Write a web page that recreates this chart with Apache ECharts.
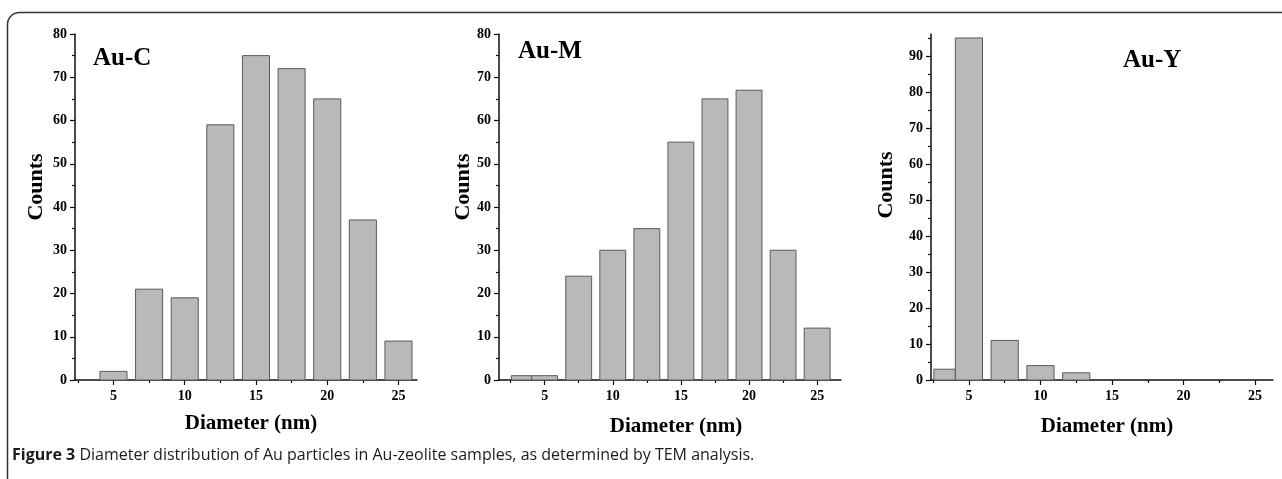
<!DOCTYPE html>
<html>
<head>
<meta charset="utf-8">
<script src="https://cdn.jsdelivr.net/npm/echarts@6/dist/echarts.min.js"></script>
<style>
  html, body { margin: 0; padding: 0; background: #fff; }
  #chart { width: 1282px; height: 479px; }
</style>
</head>
<body>
<div id="chart"></div>
<script>
// Bin centres (nm), bin widths (nm) and counts for each sample
const auCCenters = [5, 7.5, 10, 12.5, 15, 17.5, 20, 22.5, 25];
const auCWidths  = [1.9, 1.9, 1.9, 1.9, 1.9, 1.9, 1.9, 1.9, 1.9];
const auCCounts  = [2, 21, 19, 59, 75, 72, 65, 37, 9];

const auMCenters = [3.3, 5, 7.5, 10, 12.5, 15, 17.5, 20, 22.5, 25];
const auMWidths  = [1.5, 1.9, 1.9, 1.9, 1.9, 1.9, 1.9, 1.9, 1.9, 1.9];
const auMCounts  = [1, 1, 24, 30, 35, 55, 65, 67, 30, 12];

const auYCenters = [3.3, 5, 7.5, 10, 12.5];
const auYWidths  = [1.5, 1.9, 1.9, 1.9, 1.9];
const auYCounts  = [3, 95, 11, 4, 2];

const xMajor = [5, 10, 15, 20, 25];
const xMinor = [2.5, 7.5, 12.5, 17.5, 22.5];
const yMajor80 = [0, 10, 20, 30, 40, 50, 60, 70, 80];
const yMinor80 = [5, 15, 25, 35, 45, 55, 65, 75];
const yMajor96 = [0, 10, 20, 30, 40, 50, 60, 70, 80, 90];
const yMinor96 = [5, 15, 25, 35, 45, 55, 65, 75, 85, 95];

const serif = '"Liberation Serif", "Times New Roman", serif';
const chart = echarts.init(document.getElementById('chart'));

const panels = [
  { label: 'Au-C', centers: auCCenters, widths: auCWidths, counts: auCCounts,
    grid: { left: 75, top: 34, width: 342, height: 346 }, xMin: 2.3, xMax: 26.3,
    yMax: 80, yMajor: yMajor80, yMinor: yMinor80,
    labelPos: [93, 59], countsPos: [36, 187], namePos: [251, 424] },
  { label: 'Au-M', centers: auMCenters, widths: auMWidths, counts: auMCounts,
    grid: { left: 499, top: 34, width: 342, height: 346 }, xMin: 1.65, xMax: 26.75,
    yMax: 80, yMajor: yMajor80, yMinor: yMinor80,
    labelPos: [518, 52], countsPos: [463, 187], namePos: [676, 427] },
  { label: 'Au-Y', centers: auYCenters, widths: auYWidths, counts: auYCounts,
    grid: { left: 931, top: 34, width: 342, height: 346 }, xMin: 2.35, xMax: 26.25,
    yMax: 96.1, yMajor: yMajor96, yMinor: yMinor96,
    labelPos: [1123, 61], countsPos: [886, 185], namePos: [1107, 427] }
];

const axisLine = { show: true, lineStyle: { color: '#111', width: 1.5 } };
const labelStyle = { fontFamily: serif, fontWeight: 'bold', fontSize: 14, color: '#000' };

const grids = [], xAxes = [], yAxes = [], series = [], graphics = [];

panels.forEach((p, i) => {
  grids.push(p.grid);
  // main x axis
  xAxes.push({
    type: 'value', gridIndex: i, min: p.xMin, max: p.xMax, position: 'bottom',
    axisLine: axisLine, splitLine: { show: false },
    axisTick: { show: true, customValues: xMajor, length: 5, lineStyle: { color: '#111', width: 1.2 } },
    axisLabel: Object.assign({ customValues: xMajor, margin: 9 }, labelStyle)
  });
  // minor tick overlay
  xAxes.push({
    type: 'value', gridIndex: i, min: p.xMin, max: p.xMax, position: 'bottom', offset: 0,
    axisLine: { show: false }, splitLine: { show: false }, axisLabel: { show: false },
    axisTick: { show: true, customValues: xMinor, length: 3, lineStyle: { color: '#111', width: 1.2 } }
  });
  yAxes.push({
    type: 'value', gridIndex: i, min: 0, max: p.yMax, position: 'left',
    axisLine: axisLine, splitLine: { show: false },
    axisTick: { show: true, customValues: p.yMajor, length: 5, lineStyle: { color: '#111', width: 1.2 } },
    axisLabel: Object.assign({ customValues: p.yMajor, margin: 8 }, labelStyle)
  });
  yAxes.push({
    type: 'value', gridIndex: i, min: 0, max: p.yMax, position: 'left', offset: 0,
    axisLine: { show: false }, splitLine: { show: false }, axisLabel: { show: false },
    axisTick: { show: true, customValues: p.yMinor, length: 3, lineStyle: { color: '#111', width: 1.2 } }
  });

  series.push({
    type: 'custom',
    xAxisIndex: i * 2,
    yAxisIndex: i * 2,
    data: p.centers.map((c, k) => [c, p.counts[k], p.widths[k]]),
    encode: { x: 0, y: 1 },
    renderItem: (params, api) => {
      const c = api.value(0), v = api.value(1), w = api.value(2);
      const a = api.coord([c - w / 2, v]);
      const b = api.coord([c + w / 2, 0]);
      return {
        type: 'rect',
        shape: { x: a[0], y: a[1], width: b[0] - a[0], height: b[1] - a[1] },
        style: { fill: '#b9b9b9', stroke: '#5a5a5a', lineWidth: 1 }
      };
    }
  });

  graphics.push({
    type: 'text', x: p.labelPos[0], y: p.labelPos[1],
    style: { text: p.label, font: 'bold 25px ' + serif, fill: '#000', verticalAlign: 'middle' }
  });
  graphics.push({
    type: 'text', x: p.countsPos[0], y: p.countsPos[1], rotation: Math.PI / 2,
    style: { text: 'Counts', font: 'bold 22px ' + serif, fill: '#000', align: 'center', verticalAlign: 'middle' }
  });
  graphics.push({
    type: 'text', x: p.namePos[0], y: p.namePos[1],
    style: { text: 'Diameter (nm)', font: 'bold 21px ' + serif, fill: '#000', align: 'center', verticalAlign: 'middle' }
  });
});

// frame and caption
graphics.push({
  type: 'rect', silent: true,
  shape: { x: 7.5, y: 12.5, width: 1400, height: 600, r: 12 },
  style: { fill: 'none', stroke: '#333', lineWidth: 1.5 }
});
graphics.push({
  type: 'text', x: 12, y: 455,
  style: {
    text: '{b|Figure 3} Diameter distribution of Au particles in Au-zeolite samples, as determined by TEM analysis.',
    font: '16px "Open Sans", sans-serif', fill: '#1e1a1b', verticalAlign: 'middle',
    rich: { b: { font: 'bold 16px "Open Sans", sans-serif', fill: '#1e1a1b' } }
  }
});

chart.setOption({
  animation: false,
  backgroundColor: '#fff',
  grid: grids,
  xAxis: xAxes,
  yAxis: yAxes,
  series: series,
  graphic: graphics
});
</script>
</body>
</html>
